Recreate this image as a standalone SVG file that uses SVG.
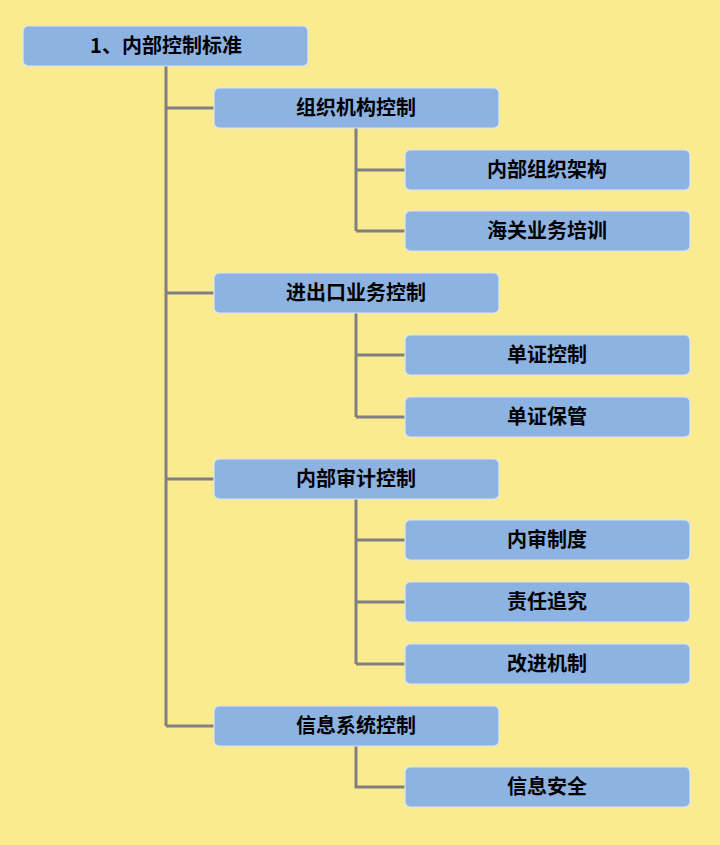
<svg xmlns="http://www.w3.org/2000/svg" width="720" height="845" viewBox="0 0 720 845">
<style>
.box{fill:#8DB3E2;stroke:#DCE6F2;stroke-width:1.2}
.t{font-family:"Noto Sans CJK SC","Liberation Sans",sans-serif;font-weight:bold;font-size:20px;fill:#000;text-anchor:middle;dominant-baseline:central}
.c{fill:none;stroke:#808080;stroke-width:3}
</style>
<rect x="0" y="0" width="720" height="845" fill="#FAEB91"/>
<g id="connectors">
<path class="c" d="M166,66 V726 M166,108 H214 M166,293 H214 M166,479 H214 M166,726 H214"/>
<path class="c" d="M356,128 V231 M356,170 H405 M356,231 H405"/>
<path class="c" d="M356,313 V417 M356,355 H405 M356,417 H405"/>
<path class="c" d="M356,499 V664 M356,540 H405 M356,602 H405 M356,664 H405"/>
<path class="c" d="M356,746 V787 H405"/>
</g>
<g id="root"><rect class="box" x="23" y="26" width="285" height="40" rx="5"/><text class="t" x="166" y="44">1、内部控制标准</text></g>
<g id="n1"><rect class="box" x="214" y="88" width="285" height="40" rx="5"/><text class="t" x="356" y="106">组织机构控制</text></g>
<g id="n1a"><rect class="box" x="405" y="150" width="285" height="40" rx="5"/><text class="t" x="547" y="168">内部组织架构</text></g>
<g id="n1b"><rect class="box" x="405" y="211" width="285" height="40" rx="5"/><text class="t" x="547" y="229">海关业务培训</text></g>
<g id="n2"><rect class="box" x="214" y="273" width="285" height="40" rx="5"/><text class="t" x="356" y="291">进出口业务控制</text></g>
<g id="n2a"><rect class="box" x="405" y="335" width="285" height="40" rx="5"/><text class="t" x="547" y="353">单证控制</text></g>
<g id="n2b"><rect class="box" x="405" y="397" width="285" height="40" rx="5"/><text class="t" x="547" y="415">单证保管</text></g>
<g id="n3"><rect class="box" x="214" y="459" width="285" height="40" rx="5"/><text class="t" x="356" y="477">内部审计控制</text></g>
<g id="n3a"><rect class="box" x="405" y="520" width="285" height="40" rx="5"/><text class="t" x="547" y="538">内审制度</text></g>
<g id="n3b"><rect class="box" x="405" y="582" width="285" height="40" rx="5"/><text class="t" x="547" y="600">责任追究</text></g>
<g id="n3c"><rect class="box" x="405" y="644" width="285" height="40" rx="5"/><text class="t" x="547" y="662">改进机制</text></g>
<g id="n4"><rect class="box" x="214" y="706" width="285" height="40" rx="5"/><text class="t" x="356" y="724">信息系统控制</text></g>
<g id="n4a"><rect class="box" x="405" y="767" width="285" height="40" rx="5"/><text class="t" x="547" y="785">信息安全</text></g>
</svg>
